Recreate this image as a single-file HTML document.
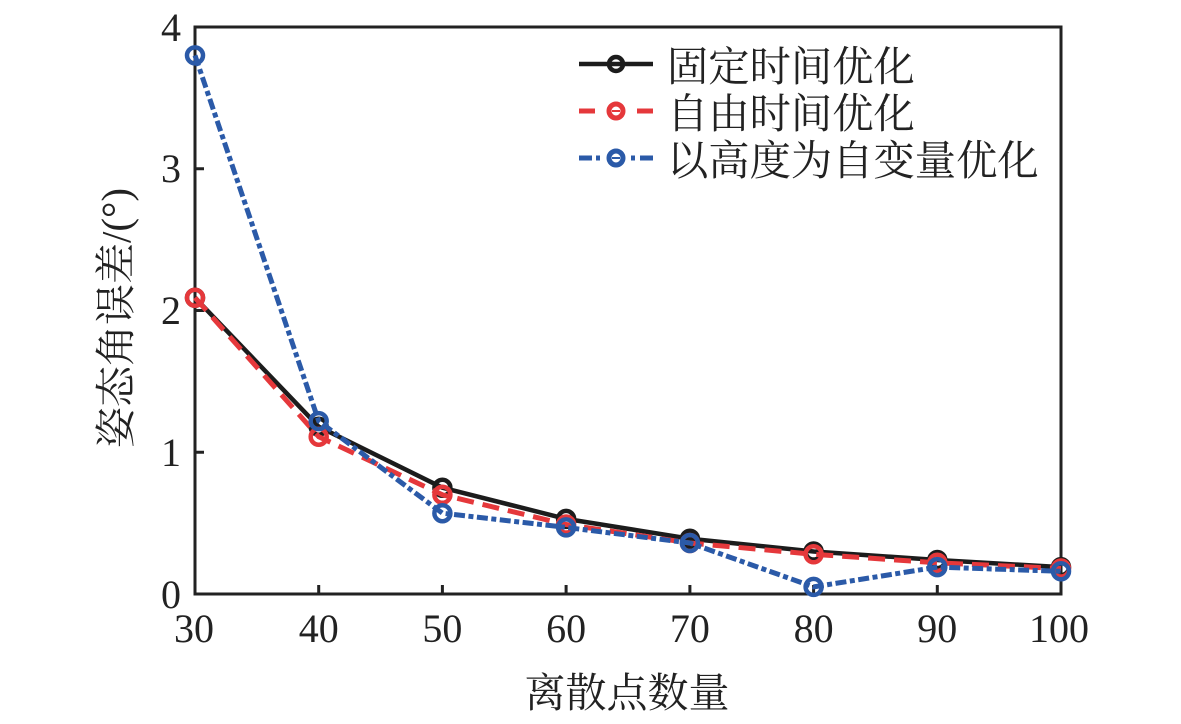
<!DOCTYPE html>
<html>
<head>
<meta charset="utf-8">
<style>
html,body{margin:0;padding:0;background:#fff;}
svg{display:block;}
.t{font-family:"Liberation Serif","Noto Serif CJK SC",serif;fill:#222;}
</style>
</head>
<body>
<svg width="1181" height="724" viewBox="0 0 1181 724" xmlns="http://www.w3.org/2000/svg">
<rect width="1181" height="724" fill="#fff"/>
<!-- axes box -->
<rect x="195" y="27" width="866" height="567" fill="none" stroke="#222" stroke-width="3"/>
<!-- ticks -->
<g stroke="#222" stroke-width="3">
<line x1="195" y1="452.25" x2="204" y2="452.25"/>
<line x1="195" y1="310.5" x2="204" y2="310.5"/>
<line x1="195" y1="168.75" x2="204" y2="168.75"/>
<line x1="318.7" y1="594" x2="318.7" y2="585"/>
<line x1="442.4" y1="594" x2="442.4" y2="585"/>
<line x1="566.1" y1="594" x2="566.1" y2="585"/>
<line x1="689.9" y1="594" x2="689.9" y2="585"/>
<line x1="813.6" y1="594" x2="813.6" y2="585"/>
<line x1="937.3" y1="594" x2="937.3" y2="585"/>
</g>
<!-- y tick labels -->
<g class="t" font-size="40" text-anchor="end">
<text x="181" y="608">0</text>
<text x="181" y="466">1</text>
<text x="181" y="324">2</text>
<text x="181" y="182">3</text>
<text x="181" y="41">4</text>
</g>
<!-- x tick labels -->
<g class="t" font-size="40" text-anchor="middle">
<text x="194" y="642">30</text>
<text x="318.7" y="642">40</text>
<text x="442.4" y="642">50</text>
<text x="566.1" y="642">60</text>
<text x="689.9" y="642">70</text>
<text x="813.6" y="642">80</text>
<text x="937.3" y="642">90</text>
<text x="1059" y="642">100</text>
</g>
<!-- axis titles -->
<text class="t" x="627" y="707" font-size="41" text-anchor="middle">离散点数量</text>
<text class="t" font-size="41" text-anchor="middle" transform="translate(130,318) rotate(-90)">姿态角误差/(°)</text>

<!-- black series -->
<polyline fill="none" stroke="#1c1c1c" stroke-width="4.5" stroke-linejoin="round"
 points="195,297.7 318.7,426.7 442.4,487.7 566.1,518.9 689.9,538.7 813.6,551.5 937.3,560 1061,567.1"/>
<g fill="none" stroke="#1c1c1c" stroke-width="4.5">
<circle cx="195" cy="297.7" r="8"/><circle cx="318.7" cy="426.7" r="8"/><circle cx="442.4" cy="487.7" r="8"/>
<circle cx="566.1" cy="518.9" r="8"/><circle cx="689.9" cy="538.7" r="8"/><circle cx="813.6" cy="551.5" r="8"/>
<circle cx="937.3" cy="560" r="8"/><circle cx="1061" cy="567.1" r="8"/>
</g>
<!-- red series -->
<polyline fill="none" stroke="#e5383b" stroke-width="5" stroke-dasharray="17 9"
 points="195,297.7 318.7,436.7 442.4,494.8 566.1,524.5 689.9,543 813.6,554.3 937.3,562.8 1061,568.5"/>
<g fill="none" stroke="#e5383b" stroke-width="4.5">
<circle cx="195" cy="297.7" r="8"/><circle cx="318.7" cy="436.7" r="8"/><circle cx="442.4" cy="494.8" r="8"/>
<circle cx="566.1" cy="524.5" r="8"/><circle cx="689.9" cy="543" r="8"/><circle cx="813.6" cy="554.3" r="8"/>
<circle cx="937.3" cy="562.8" r="8"/><circle cx="1061" cy="568.5" r="8"/>
</g>
<!-- blue series -->
<polyline fill="none" stroke="#2b5aa8" stroke-width="5" stroke-dasharray="11 3.5 5 3.5"
 points="195,55.4 318.7,421.1 442.4,513.2 566.1,527.4 689.9,543 813.6,586.9 937.3,567.1 1061,571.3"/>
<g fill="none" stroke="#2b5aa8" stroke-width="4.5">
<circle cx="195" cy="55.4" r="8"/><circle cx="318.7" cy="421.1" r="8"/><circle cx="442.4" cy="513.2" r="8"/>
<circle cx="566.1" cy="527.4" r="8"/><circle cx="689.9" cy="543" r="8"/><circle cx="813.6" cy="586.9" r="8"/>
<circle cx="937.3" cy="567.1" r="8"/><circle cx="1061" cy="571.3" r="8"/>
</g>

<!-- legend -->
<line x1="579" y1="64" x2="653" y2="64" stroke="#1c1c1c" stroke-width="4.5"/>
<circle cx="616" cy="64" r="7" fill="none" stroke="#1c1c1c" stroke-width="4.5"/>
<line x1="579" y1="111" x2="595" y2="111" stroke="#e5383b" stroke-width="5"/>
<line x1="637" y1="111" x2="653" y2="111" stroke="#e5383b" stroke-width="5"/>
<circle cx="616" cy="111" r="7" fill="none" stroke="#e5383b" stroke-width="5"/>
<line x1="612" y1="111" x2="620" y2="111" stroke="#e5383b" stroke-width="2"/>
<line x1="579" y1="158" x2="592" y2="158" stroke="#2b5aa8" stroke-width="5"/>
<line x1="596" y1="158" x2="600" y2="158" stroke="#2b5aa8" stroke-width="5"/>
<line x1="631" y1="158" x2="635" y2="158" stroke="#2b5aa8" stroke-width="5"/>
<line x1="640" y1="158" x2="653" y2="158" stroke="#2b5aa8" stroke-width="5"/>
<circle cx="616" cy="158" r="7" fill="none" stroke="#2b5aa8" stroke-width="5"/>
<line x1="612" y1="158" x2="620" y2="158" stroke="#2b5aa8" stroke-width="2"/>
<g class="t" font-size="41.3">
<text x="667" y="81">固定时间优化</text>
<text x="667" y="128">自由时间优化</text>
<text x="667" y="175">以高度为自变量优化</text>
</g>
</svg>
</body>
</html>
